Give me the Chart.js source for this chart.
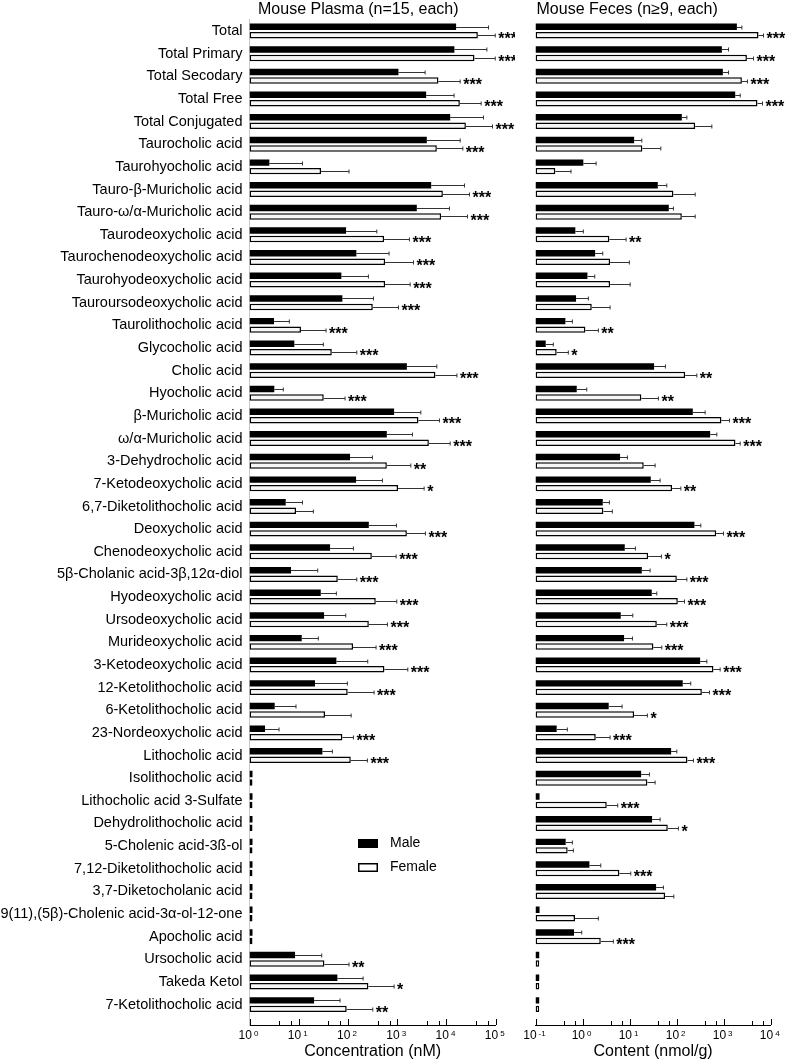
<!DOCTYPE html>
<html>
<head>
<meta charset="utf-8">
<script src="https://cdn.jsdelivr.net/npm/chart.js@4.4.1/dist/chart.umd.min.js"></script>
<style>
  body { margin: 0; background: #fff; }
  #wrap { position: relative; width: 787px; height: 1062px; }
  canvas { position: absolute; top: 0; }
  #plasma { left: 0; }
  #feces { left: 515px; }
</style>
</head>
<body>
<div id="wrap">
  <canvas id="plasma" width="515" height="1062"></canvas>
  <canvas id="feces" width="272" height="1062"></canvas>
</div>
<script>
// bile acids, top to bottom
const labels = [
  'Total', 'Total Primary', 'Total Secodary', 'Total Free', 'Total Conjugated',
  'Taurocholic acid', 'Taurohyocholic acid', 'Tauro-β-Muricholic acid', 'Tauro-ω/α-Muricholic acid',
  'Taurodeoxycholic acid', 'Taurochenodeoxycholic acid', 'Taurohyodeoxycholic acid',
  'Tauroursodeoxycholic acid', 'Taurolithocholic acid', 'Glycocholic acid', 'Cholic acid',
  'Hyocholic acid', 'β-Muricholic acid', 'ω/α-Muricholic acid', '3-Dehydrocholic acid',
  '7-Ketodeoxycholic acid', '6,7-Diketolithocholic acid', 'Deoxycholic acid',
  'Chenodeoxycholic acid', '5β-Cholanic acid-3β,12α-diol', 'Hyodeoxycholic acid',
  'Ursodeoxycholic acid', 'Murideoxycholic acid', '3-Ketodeoxycholic acid',
  '12-Ketolithocholic acid', '6-Ketolithocholic acid', '23-Nordeoxycholic acid',
  'Lithocholic acid', 'Isolithocholic acid', 'Lithocholic acid 3-Sulfate',
  'Dehydrolithocholic acid', '5-Cholenic acid-3ß-ol', '7,12-Diketolithocholic acid',
  '3,7-Diketocholanic acid', '9(11),(5β)-Cholenic acid-3α-ol-12-one', 'Apocholic acid',
  'Ursocholic acid', 'Takeda Ketol', '7-Ketolithocholic acid'
];

// plasma, nM (mean, mean+SD); 1.15 = not detected stub
const plasmaMale = [15700, 14500, 1060, 3870, 11900, 3990, 2.53, 4890, 2500, 91.5, 148, 73.4, 76.9, 3.15, 8.14, 1570, 3.19, 865, 615, 110, 146, 5.44, 265, 43.3, 6.97, 28, 32.7, 11.5, 58.1, 21.4, 3.25, 2.07, 30.2, 1.15, 1.15, 1.15, 1.15, 1.15, 1.15, 1.15, 1.15, 8.41, 60.9, 20.5];
const plasmaMaleHi = [71400, 66200, 3690, 14300, 56500, 19000, 11.9, 23200, 11500, 385, 684, 260, 329, 6.44, 31.6, 6370, 4.86, 3020, 2040, 313, 501, 11.9, 964, 129, 24.3, 58.1, 90.1, 25, 252, 97.2, 8.8, 3.98, 48.2, null, null, null, null, null, null, null, null, 29.3, 203, 69];
const plasmaFemale = [43400, 37100, 6880, 18700, 24800, 6370, 28.4, 8450, 7800, 542, 568, 568, 319, 11.1, 46.9, 5970, 32.2, 2700, 4390, 615, 1040, 8.81, 1570, 305, 62.1, 367, 265, 127, 550, 98.8, 34.2, 77, 114, 1.15, 1.15, 1.15, 1.15, 1.15, 1.15, 1.15, 1.15, 33.2, 260, 94.2];
const plasmaFemaleHi = [97800, 97800, 19000, 50700, 86100, 21500, 105, 29300, 26700, 1770, 2140, 1830, 1060, 35.9, 151, 16300, 87.3, 7210, 11900, 1890, 3520, 19.8, 3740, 951, 151, 979, 633, 372, 1640, 339, 116, 129, 248, null, null, null, null, null, null, null, null, 105, 865, 319];
const plasmaSig = ['***', '***', '***', '***', '***', '***', '', '***', '***', '***', '***', '***', '***', '***', '***', '***', '***', '***', '***', '**', '*', '', '***', '***', '***', '***', '***', '***', '***', '***', '', '***', '***', '', '', '', '', '', '', '', '', '**', '*', '**'];

// feces, nmol/g; 0.12 = not detected stub
const fecesMale = [1910, 916, 961, 1760, 129, 12.5, 1.04, 39.8, 68.2, 0.703, 1.85, 1.27, 0.728, 0.432, 0.165, 33.2, 0.753, 221, 516, 6.28, 28.2, 2.69, 239, 7.9, 18.2, 29.6, 6.49, 7.64, 316, 135, 3.6, 0.282, 76.4, 17.6, 0.122, 30.1, 0.438, 1.4, 36.6, 0.122, 0.659, 0.12, 0.12, 0.12];
const fecesMaleHi = [2440, 1270, 1270, 2250, 165, 18.2, 1.94, 61.8, 85.5, 1.04, 2.69, 1.82, 1.33, 0.608, 0.239, 57.8, 1.23, 404, 716, 8.98, 44.6, 3.72, 327, 13.3, 27.3, 37.9, 11.7, 11.5, 439, 200, 6.93, 0.475, 101, 26.4, null, 44.6, 0.608, 2.44, 52.4, null, 0.962, null, null, null];
const fecesFemale = [5510, 3120, 2440, 5240, 248, 18.7, 0.264, 85.5, 129, 3.72, 3.85, 3.85, 1.57, 1.15, 0.282, 152, 17.8, 898, 1780, 20, 80.2, 2.77, 692, 24.8, 101, 106, 37.9, 32.1, 607, 344, 12.5, 1.91, 170, 23.9, 3.27, 64.9, 0.483, 6.08, 56.9, 0.692, 2.44, 0.12, 0.12, 0.12];
const fecesFemaleHi = [7030, 4310, 3210, 6690, 561, 46.1, 0.569, 248, 248, 8.43, 9.9, 10.3, 3.85, 2.17, 0.499, 269, 41, 1330, 2250, 34.9, 123, 4.3, 991, 47.5, 165, 147, 61.8, 48.4, 843, 499, 23.9, 3.85, 228, 34.9, 5.6, 109, 0.638, 10.6, 87.1, 2.17, 4.52, null, null, null];
const fecesSig = ['***', '***', '***', '***', '', '', '', '', '', '**', '', '', '', '**', '*', '**', '**', '***', '***', '', '**', '', '***', '*', '***', '***', '***', '***', '***', '***', '*', '***', '***', '', '***', '*', '', '***', '', '', '***', '', '', ''];

const plasmaExps = [0, 1, 2, 3, 4, 5];
const fecesExps = [-1, 0, 1, 2, 3, 4];
const minorTicks = [4, 7];

const FONT = '"Liberation Sans", Arial, sans-serif';

function points(arr) {
  return arr.map((v, i) => ({ x: v, y: i }));
}

// error whiskers (one-sided) and significance stars
function whiskers(maleHi, female, femaleHi, sig) {
  return {
    id: 'whiskers',
    afterDatasetsDraw(chart) {
      const ctx = chart.ctx;
      const xs = chart.scales.x;
      ctx.save();
      ctx.strokeStyle = '#333';
      ctx.lineWidth = 1;
      [maleHi, femaleHi].forEach((hi, d) => {
        chart.getDatasetMeta(d).data.forEach((bar, i) => {
          if (hi[i] == null) return;
          const x1 = xs.getPixelForValue(hi[i]);
          const y = Math.round(bar.y) + 0.5;
          ctx.beginPath();
          ctx.moveTo(bar.x, y);
          ctx.lineTo(x1, y);
          ctx.moveTo(x1, y - 2);
          ctx.lineTo(x1, y + 2);
          ctx.stroke();
        });
      });
      ctx.fillStyle = '#000';
      ctx.font = 'bold 16px ' + FONT;
      ctx.textAlign = 'left';
      ctx.textBaseline = 'alphabetic';
      const fem = chart.getDatasetMeta(1).data;
      sig.forEach((s, i) => {
        if (!s) return;
        const end = xs.getPixelForValue(femaleHi[i] != null ? femaleHi[i] : female[i]);
        ctx.fillText(s, end + 3, fem[i].y + 9.2);
      });
      ctx.restore();
    }
  };
}

// log axis ticks, labels, titles, legend
function decor(exps, axisTitle, heading, headingOffset, legend) {
  return {
    id: 'decor',
    afterDraw(chart) {
      const ctx = chart.ctx;
      const xs = chart.scales.x;
      const a = chart.chartArea;
      const yb = a.bottom;
      ctx.save();
      ctx.strokeStyle = '#000';
      ctx.lineWidth = 1;
      ctx.beginPath();
      exps.forEach((e, k) => {
        const p = Math.round(xs.getPixelForValue(Math.pow(10, e))) + 0.5;
        ctx.moveTo(p, yb);
        ctx.lineTo(p, yb - 6);
        if (k < exps.length - 1) {
          minorTicks.forEach(m => {
            const q = Math.round(xs.getPixelForValue(m * Math.pow(10, e))) + 0.5;
            ctx.moveTo(q, yb);
            ctx.lineTo(q, yb - 4);
          });
        }
      });
      ctx.stroke();

      ctx.fillStyle = '#000';
      ctx.textAlign = 'left';
      ctx.textBaseline = 'alphabetic';
      exps.forEach(e => {
        const p = xs.getPixelForValue(Math.pow(10, e));
        ctx.font = '12px ' + FONT;
        const w10 = ctx.measureText('10').width;
        ctx.font = '8px ' + FONT;
        const we = ctx.measureText(String(e)).width;
        const start = p - 1 - (w10 + 2 + we) / 2;
        ctx.font = '12px ' + FONT;
        ctx.fillText('10', start, yb + 14);
        ctx.font = '8px ' + FONT;
        ctx.fillText(String(e), start + w10 + 2, yb + 11);
      });

      ctx.font = '16px ' + FONT;
      ctx.textAlign = 'center';
      ctx.textBaseline = 'middle';
      ctx.fillText(axisTitle, (a.left + a.right) / 2, yb + 27);
      ctx.textAlign = 'left';
      ctx.fillText(heading, a.left + headingOffset, 10);

      if (legend) {
        ctx.fillStyle = '#000';
        ctx.fillRect(358, 839, 20, 9);
        ctx.fillStyle = '#fff';
        ctx.fillRect(358, 863, 20, 9);
        ctx.strokeStyle = '#000';
        ctx.lineWidth = 1.5;
        ctx.strokeRect(358.75, 863.75, 18.5, 7.5);
        ctx.fillStyle = '#000';
        ctx.font = '14px ' + FONT;
        ctx.fillText('Male', 390, 843.5);
        ctx.fillText('Female', 390, 867.5);
      }
      ctx.restore();
    }
  };
}

function makeChart(id, male, maleHi, female, femaleHi, sig, xmin, xmax, axisWidth, padRight, showLabels, exps, axisTitle, heading, headingOffset, legend) {
  return new Chart(document.getElementById(id), {
    type: 'bar',
    data: {
      datasets: [{
        label: 'Male',
        data: points(male),
        backgroundColor: '#000',
        borderWidth: 0
      }, {
        label: 'Female',
        data: points(female),
        backgroundColor: '#f7f7f7',
        borderColor: '#000',
        borderWidth: 1.5,
        borderSkipped: false
      }]
    },
    options: {
      indexAxis: 'y',
      responsive: false,
      animation: false,
      categoryPercentage: 0.75,
      barPercentage: 0.76,
      layout: { padding: { top: 19.7, right: padRight, left: 0, bottom: 0 } },
      plugins: { legend: { display: false }, tooltip: { enabled: false } },
      scales: {
        x: {
          type: 'logarithmic',
          min: xmin,
          max: xmax,
          grid: { display: false, drawTicks: false },
          border: { display: true, color: '#000', width: 1 },
          ticks: { display: false },
          afterFit: axis => { axis.height = 37; }
        },
        y: {
          type: 'linear',
          reverse: true,
          offset: false,
          min: -0.5,
          max: 43.9,
          afterBuildTicks: axis => { axis.ticks = labels.map((l, i) => ({ value: i })); },
          grid: { display: false, drawTicks: false, offset: false },
          border: showLabels ? { display: true, color: '#c8c8c8', dash: [3, 3] } : { display: false },
          ticks: {
            display: showLabels,
            autoSkip: false,
            padding: 7,
            color: '#000',
            font: { family: FONT, size: 14.5 },
            callback: v => labels[v]
          },
          afterFit: axis => { axis.width = axisWidth; }
        }
      }
    },
    plugins: [whiskers(maleHi, female, femaleHi, sig), decor(exps, axisTitle, heading, headingOffset, legend)]
  });
}

makeChart('plasma', plasmaMale, plasmaMaleHi, plasmaFemale, plasmaFemaleHi, plasmaSig,
  1, 100000, 249.5, 19.3, true, plasmaExps, 'Concentration (nM)', 'Mouse Plasma (n=15, each)', 8.5, true);
makeChart('feces', fecesMale, fecesMaleHi, fecesFemale, fecesFemaleHi, fecesSig,
  0.1, 10000, 20.5, 16.3, false, fecesExps, 'Content (nmol/g)', 'Mouse Feces (n≥9, each)', 1, false);
</script>
</body>
</html>
